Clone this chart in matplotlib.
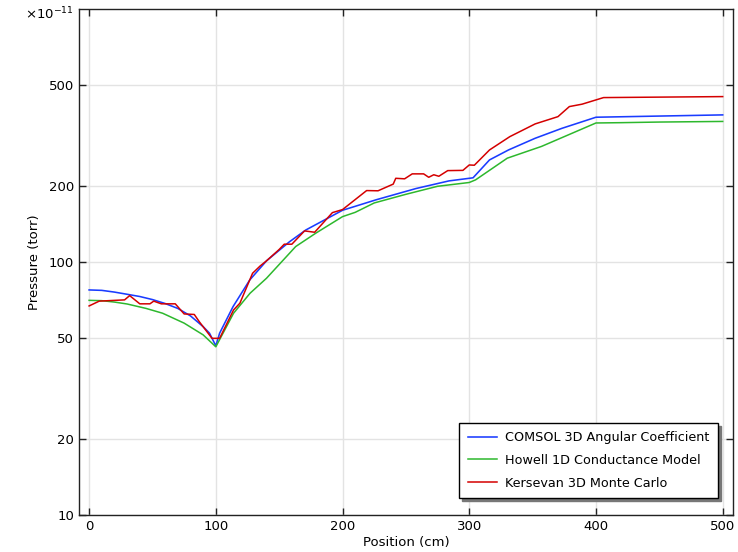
import numpy as np
import matplotlib
matplotlib.use("Agg")
import matplotlib.pyplot as plt
from matplotlib.ticker import FixedLocator, NullLocator

# COMSOL 3D angular coefficient
comsol_x = [0, 10, 20, 30, 40, 50, 60, 70, 80, 90, 95, 100, 103, 113.6, 126.8, 140, 158, 171,
            200, 226.5, 258, 284, 300, 303, 316, 331, 352, 373, 400, 500]
comsol_y = [77.5, 77.2, 76, 74.5, 73, 71, 68.5, 65.5, 61.2, 55.5, 52.3, 46.6, 52.3, 66.6, 84.9, 101, 120, 133.7,
            160, 176, 195, 209, 214, 215, 253, 277, 308, 337, 373, 381]

# Howell 1D conductance model
howell_x = [0, 10, 20, 30, 45, 58, 75, 90, 100, 114, 127, 140, 158, 163, 179, 200, 210, 225,
            250, 275, 300, 305, 330, 357, 400, 420, 450, 500]
howell_y = [70.5, 70.3, 69.4, 68.2, 65.5, 62.7, 57.3, 51.5, 46.2, 62.7, 75.2, 86.2, 108, 115, 130, 151, 157, 171,
            185, 199, 206, 211, 257, 286, 354, 355, 357, 359]

# Kersevan 3D Monte Carlo
kers_x = [0, 8, 28, 32, 40, 48, 51, 57, 68, 75, 83, 87, 97, 103, 114, 119, 129, 135, 140, 150, 154, 160,
          170, 178, 192, 200, 219, 228, 240, 242, 249, 255, 264, 268, 272, 276, 283, 295, 300, 304,
          316, 332, 352, 370, 379, 389, 406, 500]
kers_y = [67, 70, 70.8, 73.6, 68.3, 68.3, 70, 68.3, 68.3, 62.3, 62, 58, 49.9, 49.9, 64.6, 68.7, 90.2, 96.4, 101, 112, 117.5, 117.5,
          132.6, 131, 156.6, 161, 191.4, 191, 203, 214, 213, 222.8, 222.8, 216, 221, 218, 229.5, 230, 241.6, 241,
          277, 312.6, 351, 375, 411, 420, 446, 450]

yticks = [10, 20, 50, 100, 200, 500]
xticks = [0, 100, 200, 300, 400, 500]

fig = plt.figure(figsize=(7.38, 5.52), dpi=100)
ax = fig.add_axes([0.107, 0.067, 0.886, 0.917])

ax.plot(comsol_x, comsol_y, color="#1a3cff", lw=1.15, label="COMSOL 3D Angular Coefficient")
ax.plot(howell_x, howell_y, color="#2db82d", lw=1.1, label="Howell 1D Conductance Model")
ax.plot(kers_x, kers_y, color="#d40000", lw=1.1, label="Kersevan 3D Monte Carlo")

ax.set_yscale("log")
ax.set_ylim(10, 1000)
ax.set_xlim(-8, 508)
ax.yaxis.set_major_locator(FixedLocator(yticks))
ax.yaxis.set_minor_locator(NullLocator())
ax.set_yticklabels([str(t) for t in yticks])
ax.set_xticks(xticks)

ax.grid(True, color="#e3e3e3", lw=1)
ax.set_axisbelow(True)
ax.tick_params(direction="in", length=5, width=1, top=True, right=True, labelsize=9.5, colors="#222222",
               labelcolor="black")
for s in ax.spines.values():
    s.set_color("#222222")
    s.set_linewidth(1)

ax.set_xlabel("Position (cm)", fontsize=9.5, labelpad=2)
ax.set_ylabel("Pressure (torr)", fontsize=9.5, labelpad=6)
fig.text(0.034, 0.975, r"$\times10^{-11}$", fontsize=9.5, va="center", ha="left")

leg = ax.legend(loc="lower right", bbox_to_anchor=(0.977, 0.034), borderaxespad=0, fontsize=9.2,
                frameon=True, fancybox=False, shadow={"color": "#777777", "alpha": 1},
                handlelength=2.3, handletextpad=0.63, borderpad=0.65, labelspacing=0.75)
leg.get_frame().set_edgecolor("black")
leg.get_frame().set_linewidth(1)

fig.savefig("out.png", dpi=100)
